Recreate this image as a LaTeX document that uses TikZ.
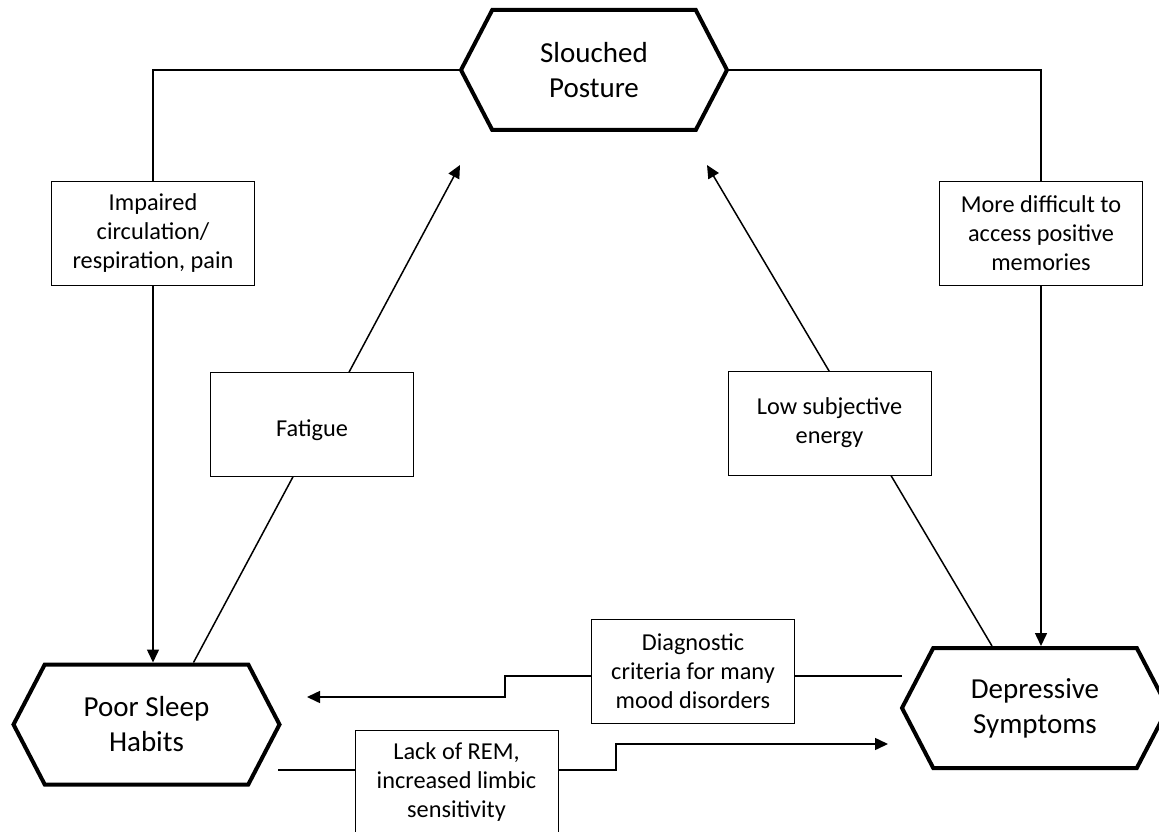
\documentclass[tikz,border=0pt]{standalone}
\usepackage{fontspec}
\setmainfont{Carlito}
\usetikzlibrary{shapes.symbols,arrows.meta,backgrounds,calc}

\begin{document}
\begin{tikzpicture}[x=1pt,y=-1pt,
    hexa/.style={signal,signal to=east and west,signal pointer angle=125,
      draw,line width=4pt,fill=white,inner sep=0pt,
      minimum width=266pt,minimum height=120pt,align=center,
      font=\fontsize{29}{35}\selectfont},
    lbl/.style={rectangle,draw,line width=1pt,fill=white,inner sep=0pt,
      minimum width=203pt,minimum height=104pt,align=center,
      font=\fontsize{24.3}{29}\selectfont,
      execute at begin node={\rule{0pt}{28pt}}},
    link/.style={line width=1.5pt},
    arr/.style={link,-{Triangle[length=13pt,width=12pt]}}]
    \clip (0,0) rectangle (1159,832);
    \node[hexa] (sp) at (594,70) {Slouched\\Posture};
    \node[hexa] (ps) at (146.5,724.5) {Poor Sleep\\Habits};
    \node[hexa] (ds) at (1035,708) {Depressive\\Symptoms};
    \node[lbl] (imp) at (153,233) {Impaired\\circulation/\\respiration, pain};
    \node[lbl] (mem) at (1041,233) {More difficult to\\access positive\\memories};
    \node[lbl] (fat) at (312,424.5) {Fatigue};
    \node[lbl] (low) at (829.5,423) {Low subjective\\energy};
    \node[lbl] (diag) at (693,671.5) {Diagnostic\\criteria for many\\mood disorders};
    \node[lbl] (lack) at (456.5,782) {Lack of REM,\\increased limbic\\sensitivity};
    \coordinate (fatA) at ($(ps.north)+(47,0)$);
    \coordinate (fatB) at (460,165);
    \coordinate (lowA) at ($(ds.north)+(-43,0)$);
    \coordinate (lowB) at (707,165);
    \coordinate (diagA) at (902,676);
    \coordinate (diagS) at (505,676);
    \coordinate (diagB) at (307,697);
    \coordinate (lackA) at (278,770);
    \coordinate (lackS) at (616,770);
    \coordinate (lackB) at (888,744);
    \begin{scope}[on background layer]
      \fill[white] (0,0) rectangle (1159,832);
      \draw[link] (sp.west) -| (imp.north);
      \draw[arr] (imp.south) -- (imp.south |- ps.north);
      \draw[link] (sp.east) -| (mem.north);
      \draw[arr] (mem.south) -- (mem.south |- ds.north);
      \draw[arr] (fatA) -- (fatB);
      \draw[arr] (lowA) -- (lowB);
      \draw[arr] (diagA) -- (diagS) |- (diagB);
      \draw[arr] (lackA) -- (lackS) |- (lackB);
    \end{scope}
\end{tikzpicture}
\end{document}
